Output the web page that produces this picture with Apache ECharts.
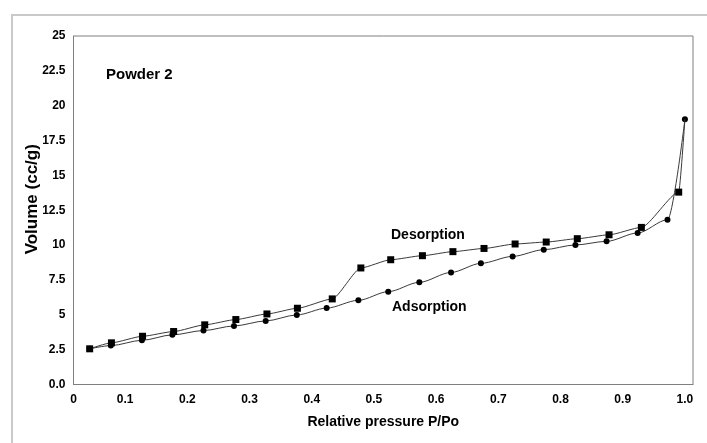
<!DOCTYPE html>
<html>
<head>
<meta charset="utf-8">
<script src="https://cdn.jsdelivr.net/npm/echarts@6/dist/echarts.min.js"></script>
<style>
  html, body { margin: 0; padding: 0; background: #fff; }
  #chart { width: 707px; height: 443px; }
</style>
</head>
<body>
<div id="chart"></div>
<script>
// Nitrogen isotherm, Powder 2: relative pressure P/Po vs adsorbed volume (cc/g)
const adsorptionP = [0.043, 0.077, 0.127, 0.176, 0.226, 0.275, 0.326, 0.376, 0.424, 0.475,
                     0.523, 0.573, 0.624, 0.672, 0.723, 0.773, 0.824, 0.874, 0.924, 0.972, 1.0];
const adsorptionV = [2.56, 2.79, 3.17, 3.56, 3.87, 4.20, 4.56, 4.99, 5.48, 6.04,
                     6.66, 7.33, 8.04, 8.69, 9.19, 9.67, 10.01, 10.27, 10.87, 11.82, 19.03];

// Desorption branch runs from saturation back down to low pressure
const desorptionP = [1.0, 0.99, 0.93, 0.878, 0.827, 0.777, 0.727, 0.677, 0.627, 0.578,
                     0.527, 0.479, 0.433, 0.377, 0.328, 0.278, 0.228, 0.178, 0.128, 0.078, 0.043];
const desorptionV = [19.03, 13.8, 11.27, 10.74, 10.46, 10.22, 10.08, 9.76, 9.53, 9.24,
                     8.95, 8.36, 6.14, 5.47, 5.06, 4.66, 4.28, 3.80, 3.46, 2.99, 2.56];

const xTickValues = [0.017, 0.1, 0.2, 0.3, 0.4, 0.5, 0.6, 0.7, 0.8, 0.9, 1.0];
const yTickLabels = ['0.0', '2.5', '5', '7.5', '10', '12.5', '15', '17.5', '20', '22.5', '25'];

const FONT = 'Liberation Sans, Arial, sans-serif';

const adsorptionData = adsorptionP.map((p, i) => [p, adsorptionV[i]]);
// the saturation point is shared with the adsorption branch and carries its round marker
const desorptionData = desorptionP.map((p, i) =>
  i === 0 ? { value: [p, desorptionV[i]], symbol: 'none' } : [p, desorptionV[i]]);

const chart = echarts.init(document.getElementById('chart'), null, { renderer: 'canvas' });

chart.setOption({
  animation: false,
  backgroundColor: '#ffffff',
  grid: {
    left: 73.5, right: 14, top: 36, bottom: 58.5,
    show: true, borderColor: '#7f7f7f', borderWidth: 1, backgroundColor: 'transparent'
  },
  graphic: [
    {
      type: 'rect', silent: true, z: -10,
      shape: { x: 12, y: 15, width: 760, height: 500 },
      style: { fill: 'none', stroke: '#c9c9c9', lineWidth: 2 }
    },
    {
      type: 'text', left: 106, top: 67,
      style: { text: 'Powder 2', font: 'bold 15px ' + FONT, fill: '#000' }
    },
    {
      type: 'text', left: 391, top: 228,
      style: { text: 'Desorption', font: 'bold 14px ' + FONT, fill: '#000' }
    },
    {
      type: 'text', left: 392, top: 300,
      style: { text: 'Adsorption', font: 'bold 14px ' + FONT, fill: '#000' }
    }
  ],
  xAxis: {
    type: 'value',
    min: 0.017, max: 1.013,
    name: 'Relative pressure P/Po',
    nameLocation: 'middle',
    nameGap: 31,
    nameMoveOverlap: false,
    nameTextStyle: { fontFamily: FONT, fontWeight: 'bold', fontSize: 14, color: '#000' },
    axisLine: { show: true, lineStyle: { color: '#7f7f7f', width: 1 } },
    axisTick: { show: false },
    splitLine: { show: false },
    axisLabel: {
      customValues: xTickValues,
      margin: 9,
      fontFamily: FONT, fontWeight: 'bold', fontSize: 12, color: '#000',
      formatter: v => (v < 0.05 ? '0' : v.toFixed(1))
    }
  },
  yAxis: {
    type: 'value',
    min: 0, max: 25, interval: 2.5,
    name: 'Volume (cc/g)',
    nameLocation: 'middle',
    nameGap: 33,
    nameMoveOverlap: false,
    nameTextStyle: {
      fontFamily: FONT, fontWeight: 'bold', fontSize: 17, color: '#000',
      padding: [0, 0, 0, 22]
    },
    axisLine: { show: true, lineStyle: { color: '#7f7f7f', width: 1 } },
    axisTick: { show: false },
    splitLine: { show: false },
    axisLabel: {
      margin: 8,
      fontFamily: FONT, fontWeight: 'bold', fontSize: 12, color: '#000',
      formatter: v => yTickLabels[Math.round(v / 2.5)]
    }
  },
  series: [
    {
      name: 'Adsorption',
      type: 'line',
      data: adsorptionData,
      smooth: 0.3,
      smoothMonotone: 'x',
      symbol: 'circle',
      symbolSize: 6,
      itemStyle: { color: '#000' },
      lineStyle: { color: '#3a3a3a', width: 1 },
      z: 2
    },
    {
      name: 'Desorption',
      type: 'line',
      data: desorptionData,
      smooth: 0.2,
      smoothMonotone: 'x',
      symbol: 'rect',
      symbolSize: 7,
      itemStyle: { color: '#000' },
      lineStyle: { color: '#3a3a3a', width: 1 },
      z: 3
    }
  ]
});
</script>
</body>
</html>
